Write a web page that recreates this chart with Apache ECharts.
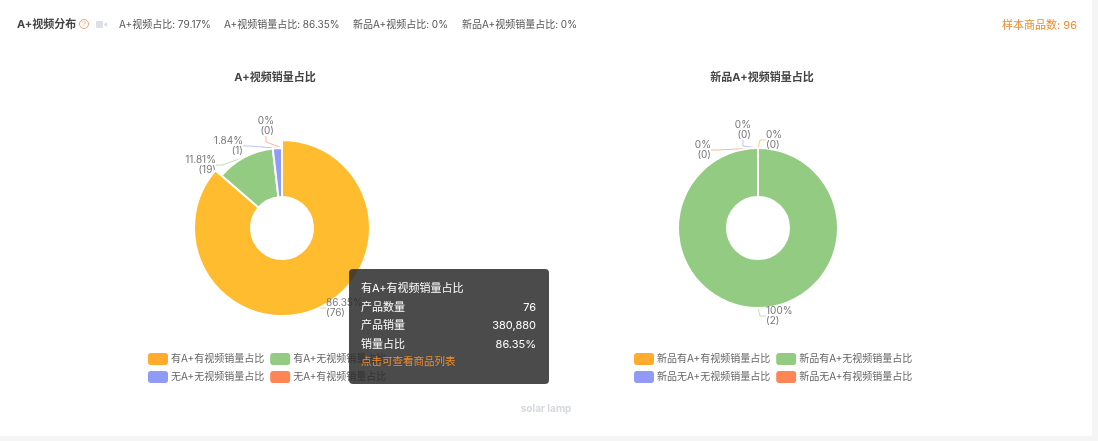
<!DOCTYPE html>
<html><head><meta charset="utf-8">
<style>html,body{margin:0;padding:0;background:#f5f5f5;overflow:hidden}#c{position:absolute;left:0;top:0;width:1092px;height:436px;background:#fff}</style>
<script src="https://cdn.jsdelivr.net/npm/echarts@6/dist/echarts.min.js"></script></head>
<body><div id="c"></div>
<script>
const FONT = '"Inter","Noto Sans CJK SC",sans-serif';
const names1 = ['有A+有视频销量占比','有A+无视频销量占比','无A+无视频销量占比','无A+有视频销量占比'];
const share1 = [86.35,11.81,1.84,0];
const count1 = [76,19,1,0];
const names2 = ['新品有A+有视频销量占比','新品有A+无视频销量占比','新品无A+无视频销量占比','新品无A+有视频销量占比'];
const share2 = [0,100,0,0];
const count2 = [0,2,0,0];
const colors = ['#FFAB2E','#94CB82','#8F9BF5','#FF8557'];
const headerStats = ['A+视频占比: 79.17%','A+视频销量占比: 86.35%','新品A+视频占比: 0%','新品A+视频销量占比: 0%'];
const statX = [119,224,353,462];
// label anchor placement per series and slice
const anchors = [
  [{x:326,y:298,align:'left'},{x:216,y:155,align:'right'},{x:243,y:136,align:'right'},{x:274,y:116,align:'right'}],
  [{x:766,y:130,align:'left'},{x:766,y:306,align:'left'},{x:751,y:120,align:'right'},{x:711,y:140,align:'right'}]
];

function pie(name,names,share,count,cx,si){
  return {
    type:'pie',name,center:[cx,228],radius:[31,80],startAngle:90,animation:false,
    stateAnimation:{duration:0},minShowLabelAngle:0,avoidLabelOverlap:false,
    data:names.map((n,i)=>({name:n,value:share[i],count:count[i],itemStyle:{color:colors[i]},
      labelLine:{lineStyle:{color:colors[i]}}})),
    itemStyle:{borderColor:'#fff',borderWidth:2},
    label:{formatter:p=>p.value+'%\n('+p.data.count+')',fontSize:10,lineHeight:10,color:'#777',fontFamily:FONT},
    labelLine:{length:8,length2:6,lineStyle:{width:1,opacity:.6}},
    labelLayout:p=>{const a=anchors[si][p.dataIndex];return {x:a.x,y:a.y,align:a.align,verticalAlign:'top'};},
    emphasis:{scale:true,scaleSize:8,label:{show:true},labelLine:{show:true},itemStyle:{color:si===0?'#FFBC2E':undefined}}
  };
}
function legend(names,left){
  return {left,top:353,padding:0,itemWidth:20,itemHeight:12,itemGap:6,orient:'horizontal',width:340,
    itemStyle:{borderWidth:0},icon:'roundRect',selectedMode:false,
    data:[names[0],names[1],'',names[2],names[3]],
    textStyle:{fontSize:10,color:'#666',fontFamily:FONT,padding:[0,0,0,-2]}};
}
const titleText=(text,extra)=>Object.assign({text,padding:0},extra);
const chart = echarts.init(document.getElementById('c'),null,{renderer:'canvas'});
chart.setOption({
  animation:false,
  title:[
    titleText('A+视频销量占比',{left:275,top:72,textAlign:'center',textStyle:{fontSize:11,fontWeight:'bold',color:'#444',fontFamily:FONT}}),
    titleText('新品A+视频销量占比',{left:762,top:72,textAlign:'center',textStyle:{fontSize:11,fontWeight:'bold',color:'#444',fontFamily:FONT}}),
    titleText('solar lamp',{left:546,top:404,textAlign:'center',textStyle:{fontSize:10,fontWeight:'bold',color:'#d5d8de',fontFamily:FONT}}),
    titleText('A+视频分布',{left:17,top:19,textStyle:{fontSize:11,fontWeight:'bold',color:'#444',fontFamily:FONT}}),
    ...headerStats.map((t,i)=>titleText(t,{left:statX[i],top:20,textStyle:{fontSize:10,fontWeight:'normal',color:'#555',fontFamily:FONT}})),
    titleText('样本商品数: 96',{right:15,top:20,textStyle:{fontSize:11,fontWeight:'normal',color:'#ee8a2c',fontFamily:FONT}})
  ],
  legend:[legend(names1,148),legend(names2,634)],
  tooltip:{trigger:'item',alwaysShowContent:true,transitionDuration:0,showDelay:0,hideDelay:0,
    position:[349,269],padding:0,borderWidth:0,borderRadius:4,backgroundColor:'rgba(40,40,40,.84)',
    extraCssText:'box-shadow:none;width:200px;height:115px;',
    formatter:()=>'<div style="padding:10px 13px 10px 12px;font:11px/18.5px '+"'Inter','Noto Sans CJK SC'"+';color:#fff">'+
      '<div>有A+有视频销量占比</div>'+
      '<div style="display:flex;justify-content:space-between"><span>产品数量</span><span>76</span></div>'+
      '<div style="display:flex;justify-content:space-between"><span>产品销量</span><span>380,880</span></div>'+
      '<div style="display:flex;justify-content:space-between"><span>销量占比</span><span>86.35%</span></div>'+
      '<div style="color:#f08c2e;font-size:10.5px">点击可查看商品列表</div></div>'},
  series:[pie('a',names1,share1,count1,282,0),pie('b',names2,share2,count2,758,1)],
  graphic:[
    {type:'circle',shape:{cx:84,cy:24,r:4.5},style:{fill:'none',stroke:'#eea36a',lineWidth:1}},
    {type:'text',style:{x:84,y:24,text:'?',fontSize:7,fill:'#eea36a',align:'center',verticalAlign:'middle'}},
    {type:'rect',shape:{x:96,y:21,width:7,height:7,r:1},style:{fill:'#dcdfe3'}},
    {type:'polygon',shape:{points:[[104,24],[107,22],[107,27],[104,25]]},style:{fill:'#dcdfe3'}}
  ]
});
chart.dispatchAction({type:'highlight',seriesIndex:0,dataIndex:0});
chart.dispatchAction({type:'showTip',seriesIndex:0,dataIndex:0});
</script></body></html>
